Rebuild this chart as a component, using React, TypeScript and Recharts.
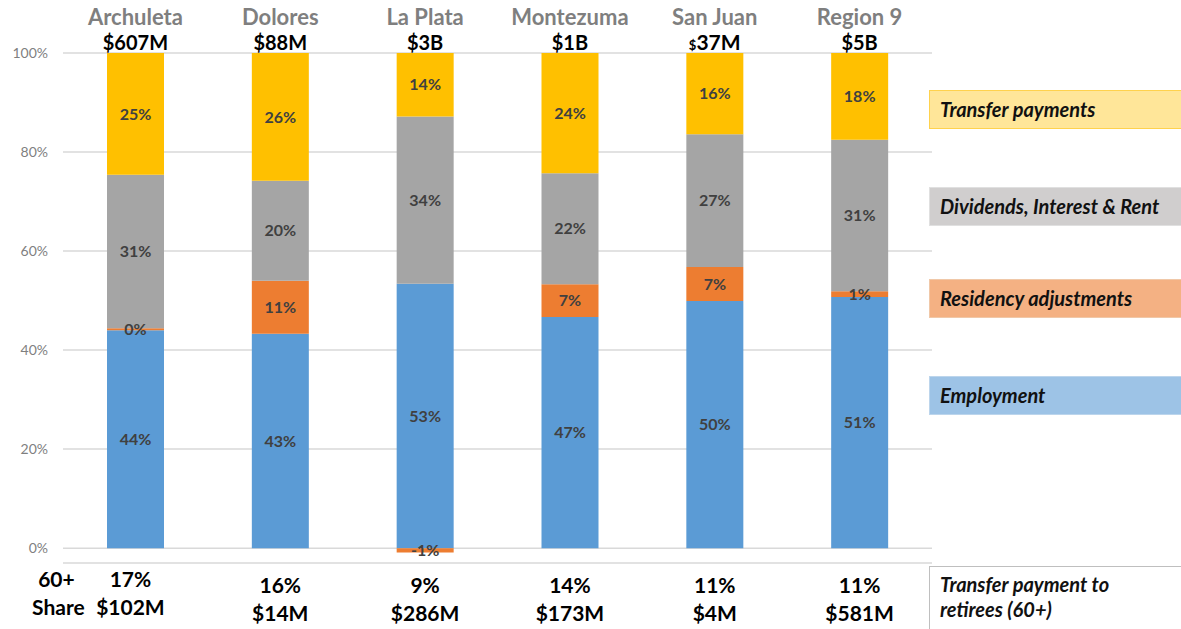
import React from "react";
import {
  BarChart,
  Bar,
  XAxis,
  YAxis,
  CartesianGrid,
  LabelList,
} from "recharts";

const regions = ["Archuleta", "Dolores", "La Plata", "Montezuma", "San Juan", "Region 9"];
const totals = ["$607M", "$88M", "$3B", "$1B", "$37M", "$5B"];
const retireeShare = ["17%", "16%", "9%", "14%", "11%", "11%"];
const retireeAmount = ["$102M", "$14M", "$286M", "$173M", "$4M", "$581M"];

// percent of personal income by source
const employment = [44.0, 43.3, 53.4, 46.7, 49.9, 50.7];
const residency = [0.4, 10.7, -0.9, 6.6, 6.9, 1.2];
const dividends = [31.0, 20.2, 33.8, 22.4, 26.8, 30.6];
const transfer = [24.6, 25.8, 14.0, 24.3, 16.4, 17.5];

const yTicks = [0, 20, 40, 60, 80, 100];

const FONT = "Lato, 'Open Sans', sans-serif";

const data = regions.map((region, i) => ({
  region,
  employment: employment[i],
  residency: residency[i],
  dividends: dividends[i],
  transfer: transfer[i],
}));

const legendItems = [
  { label: "Transfer payments", fill: "#ffe699", border: "#ffd24d", top: 90 },
  { label: "Dividends, Interest & Rent", fill: "#d0cece", border: "#e0e0e0", top: 187 },
  { label: "Residency adjustments", fill: "#f4b183", border: "#f0c8a8", top: 279 },
  { label: "Employment", fill: "#9dc3e6", border: "#bcd5ec", top: 376 },
];

function TopTick({ x, y, index }: any) {
  const amt = totals[index];
  return (
    <g fontFamily={FONT} fontWeight={700} textAnchor="middle">
      <text x={x} y={y - 28} fontSize={22} fill="#7f7f7f">
        {regions[index]}
      </text>
      {index === 4 ? (
        <text x={x} y={y - 3} fill="#000">
          <tspan fontSize={13}>{amt.slice(0, 1)}</tspan>
          <tspan fontSize={21}>{amt.slice(1)}</tspan>
        </text>
      ) : (
        <text x={x} y={y - 3} fontSize={20} fill="#000">
          {amt}
        </text>
      )}
    </g>
  );
}

function BottomTick({ x, y, index }: any) {
  const first = index === 0;
  const shift = first ? -6 : 0;
  const dx = first ? -5 : 0;
  return (
    <g fontFamily={FONT} fontWeight={700} fontSize={21} fill="#000" textAnchor="middle">
      {first && (
        <>
          <text x={x - 79} y={y + 24}>60+</text>
          <text x={x - 77} y={y + 52}>Share</text>
        </>
      )}
      <text x={x + dx} y={y + 30 + shift}>{retireeShare[index]}</text>
      <text x={x + dx} y={y + 58 + shift}>{retireeAmount[index]}</text>
    </g>
  );
}

const pct = (v: any) => `${Math.round(Number(v))}%`;

const labelStyle = {
  fill: "#404040",
  fontSize: 16,
  fontWeight: 700,
  fontFamily: FONT,
};

const boxText = {
  fontFamily: FONT,
  fontStyle: "italic" as const,
  fontWeight: 700,
  fontSize: 20,
  color: "#111",
};

export default function App() {
  return (
    <div
      style={{
        position: "absolute",
        left: 0,
        top: 0,
        width: 1181,
        height: 629,
        background: "#fff",
        overflow: "hidden",
      }}
    >
      <div style={{ position: "absolute", left: 0, top: 0 }}>
        <BarChart
          width={940}
          height={629}
          data={data}
          stackOffset="sign"
          margin={{ top: 0, right: 8, bottom: 0, left: 8 }}
        >
          <CartesianGrid vertical={false} stroke="#d9d9d9" strokeWidth={1.5} />
          <XAxis
            xAxisId="top"
            orientation="top"
            dataKey="region"
            height={53}
            axisLine={false}
            tickLine={false}
            tickSize={0}
            tickMargin={0}
            interval={0}
            tick={<TopTick />}
          />
          <XAxis
            xAxisId="bottom"
            dataKey="region"
            height={66}
            axisLine={false}
            tickLine={false}
            tickSize={0}
            tickMargin={0}
            interval={0}
            tick={<BottomTick />}
          />
          <YAxis
            domain={[-3, 100]}
            allowDataOverflow
            ticks={yTicks}
            width={55}
            axisLine={false}
            tickLine={false}
            tickSize={0}
            tickMargin={15}
            tickFormatter={(v) => `${v}%`}
            tick={{ fill: "#7f7f7f", fontSize: 14, fontFamily: FONT }}
          />
          <Bar xAxisId="bottom" dataKey="employment" stackId="a" fill="#5b9bd5" barSize={57} isAnimationActive={false}>
            <LabelList dataKey="employment" position="center" formatter={pct} style={labelStyle} />
          </Bar>
          <Bar xAxisId="bottom" dataKey="residency" stackId="a" fill="#ed7d31" barSize={57} isAnimationActive={false}>
            <LabelList dataKey="residency" position="center" formatter={pct} style={labelStyle} />
          </Bar>
          <Bar xAxisId="bottom" dataKey="dividends" stackId="a" fill="#a5a5a5" barSize={57} isAnimationActive={false}>
            <LabelList dataKey="dividends" position="center" formatter={pct} style={labelStyle} />
          </Bar>
          <Bar xAxisId="bottom" dataKey="transfer" stackId="a" fill="#ffc000" barSize={57} isAnimationActive={false}>
            <LabelList dataKey="transfer" position="center" formatter={pct} style={labelStyle} />
          </Bar>
        </BarChart>
      </div>

      {/* legend boxes on the right */}
      {legendItems.map((item) => (
        <div
          key={item.label}
          style={{
            ...boxText,
            position: "absolute",
            left: 929,
            top: item.top,
            width: 260,
            height: 39,
            background: item.fill,
            border: `1.5px solid ${item.border}`,
            boxSizing: "border-box",
            lineHeight: "36px",
            paddingLeft: 10,
          }}
        >
          {item.label}
        </div>
      ))}

      <div
        style={{
          ...boxText,
          position: "absolute",
          left: 929,
          top: 566,
          width: 270,
          height: 80,
          border: "1.5px solid #bfbfbf",
          boxSizing: "border-box",
          lineHeight: "25px",
          padding: "5px 0 0 10px",
        }}
      >
        Transfer payment to
        <br />
        retirees (60+)
      </div>
    </div>
  );
}
